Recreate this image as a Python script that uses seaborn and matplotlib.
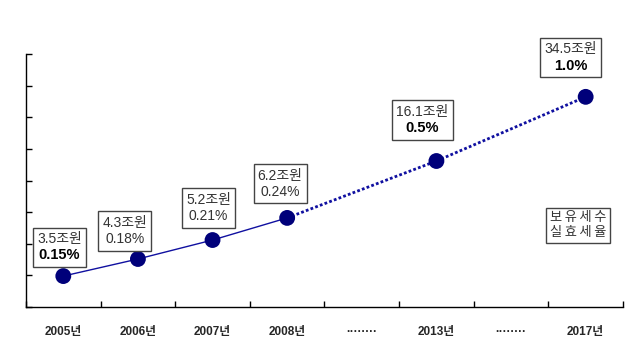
import matplotlib
matplotlib.use("Agg")
import matplotlib.pyplot as plt
import seaborn as sns
import pandas as pd
from matplotlib.offsetbox import TextArea, VPacker, AnnotationBbox

# ---- data ----
categories = ['2005년', '2006년', '2007년', '2008년', '········', '2013년', '········', '2017년']
point_cats = ['2005년', '2006년', '2007년', '2008년', '2013년', '2017년']
values = [0.98, 1.52, 2.12, 2.82, 4.62, 6.65]
amounts = ['3.5조원', '4.3조원', '5.2조원', '6.2조원', '16.1조원', '34.5조원']
rates = ['0.15%', '0.18%', '0.21%', '0.24%', '0.5%', '1.0%']
rate_bold = [True, False, False, False, True, True]
legend_text = '보\u2009유\u2009세\u2009수\n실\u2009효\u2009세\u2009율'
solid_cats = ['2005년', '2006년', '2007년', '2008년']
dotted_cats = ['2008년', '2013년', '2017년']

# ---- layout ----
label_offsets = [(-4, 29), (-13, 28), (-4, 32), (-7, 34), (-14, 41), (-15, 39)]

sns.set_style("white")
plt.rcParams['font.family'] = ['Liberation Sans', 'Noto Sans CJK KR', 'DejaVu Sans']

df = pd.DataFrame({'cat': point_cats, 'value': values})
df['pos'] = [categories.index(c) for c in point_cats]
df_solid = df[df['cat'].isin(solid_cats)]
df_dot = df[df['cat'].isin(dotted_cats)]

fig = plt.figure(figsize=(6.4, 3.45), dpi=100)
ax = fig.add_axes([0.0406, 0.110, 0.9328, 0.733])

line_color = '#1010a0'
marker_color = '#00007a'
sns.lineplot(data=df_solid, x='pos', y='value', ax=ax, color=line_color, lw=1.0)
sns.lineplot(data=df_dot, x='pos', y='value', ax=ax, color=line_color, lw=2.0,
             linestyle=(0, (1, 0.8)))
sns.scatterplot(data=df, x='pos', y='value', ax=ax, color=marker_color, s=130,
                edgecolor='none', zorder=5)

ax.set_xlim(-0.5, len(categories) - 0.5)
ax.set_ylim(0, 8)
ax.set_xlabel('')
ax.set_ylabel('')

# y ticks (no labels)
ax.set_yticks(range(0, 9))
ax.set_yticklabels([])
ax.tick_params(axis='y', left=True, direction='in', length=4, width=1, color='black')

# x: major ticks at boundaries, minor ticks with labels at centers
ax.set_xticks([i - 0.5 for i in range(len(categories) + 1)])
ax.set_xticklabels([])
ax.set_xticks(range(len(categories)), minor=True)
ax.set_xticklabels(categories, minor=True, fontsize=8.5, fontweight='bold')
ax.tick_params(axis='x', which='major', bottom=True, direction='in', length=4, width=1,
               color='black')
ax.tick_params(axis='x', which='minor', bottom=True, length=0, pad=14)

for side in ['top', 'right']:
    ax.spines[side].set_visible(False)
for side in ['left', 'bottom']:
    ax.spines[side].set_color('black')
    ax.spines[side].set_linewidth(1.0)

# annotation boxes
for (pos, val, amt, rt, bold, off) in zip(df['pos'], df['value'], amounts, rates,
                                          rate_bold, label_offsets):
    t1 = TextArea(amt, textprops=dict(fontsize=10, color='#333333'))
    t2 = TextArea(rt, textprops=dict(fontsize=10.5 if bold else 10, color='black' if bold else '#333333',
                                     fontweight='bold' if bold else 'normal'))
    pack = VPacker(children=[t1, t2], align='center', pad=0, sep=2)
    ab = AnnotationBbox(pack, (pos, val), xybox=off, boxcoords='offset pixels',
                        frameon=True, pad=0.3, zorder=6,
                        bboxprops=dict(edgecolor='#444444', facecolor='white', lw=1.0))
    ax.add_artist(ab)

ax.text(0.925, 0.324, legend_text, transform=ax.transAxes, ha='center', va='center',
        fontsize=9.5, color='#333333', multialignment='center', linespacing=1.35,
        bbox=dict(boxstyle='square,pad=0.3', facecolor='white', edgecolor='#444444', lw=1.0))

fig.savefig('out.png', dpi=100, facecolor='white')
